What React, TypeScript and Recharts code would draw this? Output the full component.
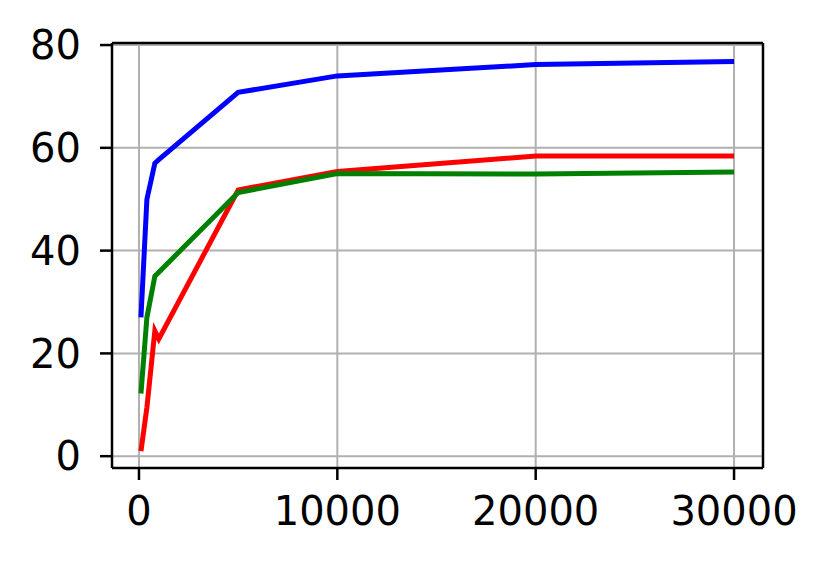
import React from 'react';
import { LineChart, Line, XAxis, YAxis, CartesianGrid, ReferenceLine } from 'recharts';

// sample sizes on the x axis
const steps = [100, 400, 800, 1000, 5000, 10000, 20000, 30000];
// three runs
const redRun = [1.0, 9.5, 24.4, 22.8, 51.8, 55.4, 58.4, 58.4];
const greenRun = [12.2, 27.0, 35.0, 35.8, 51.3, 55.0, 54.9, 55.3];
const blueRun = [27.0, 50.0, 57.0, 57.7, 70.8, 74.0, 76.2, 76.8];

const xTicks = [0, 10000, 20000, 30000];
const yTicks = [0, 20, 40, 60, 80];

const data = steps.map((s, i) => ({
  step: s,
  red: redRun[i],
  green: greenRun[i],
  blue: blueRun[i],
}));

const FONT = { fontFamily: 'DejaVu Sans', fontSize: 40, fill: '#000' };
const X_DOMAIN = [-1360, 31460];
const Y_DOMAIN = [-2.3, 80.4];

export default function App() {
  return (
    <div style={{ position: 'absolute', left: 0, top: 0, width: 830, height: 569, background: '#fff' }}>
      <LineChart width={830} height={569} data={data} margin={{ top: 43, right: 67, left: 0, bottom: 0 }}>
        <CartesianGrid stroke="#b0b0b0" strokeWidth={2} horizontalValues={yTicks} verticalValues={xTicks} />
        <XAxis
          dataKey="step"
          type="number"
          domain={X_DOMAIN}
          ticks={xTicks}
          allowDataOverflow
          height={101}
          tick={FONT}
          tickSize={12}
          tickMargin={17}
          axisLine={{ stroke: '#000', strokeWidth: 2.5 }}
          tickLine={{ stroke: '#000', strokeWidth: 2.5 }}
        />
        <YAxis
          type="number"
          domain={Y_DOMAIN}
          ticks={yTicks}
          allowDataOverflow
          width={112}
          tick={FONT}
          tickSize={12}
          tickMargin={19}
          axisLine={{ stroke: '#000', strokeWidth: 2.5 }}
          tickLine={{ stroke: '#000', strokeWidth: 2.5 }}
        />
        {/* top and right spines */}
        <ReferenceLine y={Y_DOMAIN[1]} stroke="#000" strokeWidth={2.5} ifOverflow="visible" />
        <ReferenceLine x={X_DOMAIN[1]} stroke="#000" strokeWidth={2.5} ifOverflow="visible" />
        <Line type="linear" dataKey="blue" stroke="#0000ff" strokeWidth={5} dot={false} isAnimationActive={false} />
        <Line type="linear" dataKey="red" stroke="#ff0000" strokeWidth={5} dot={false} isAnimationActive={false} />
        <Line type="linear" dataKey="green" stroke="#008000" strokeWidth={5} dot={false} isAnimationActive={false} />
      </LineChart>
    </div>
  );
}
